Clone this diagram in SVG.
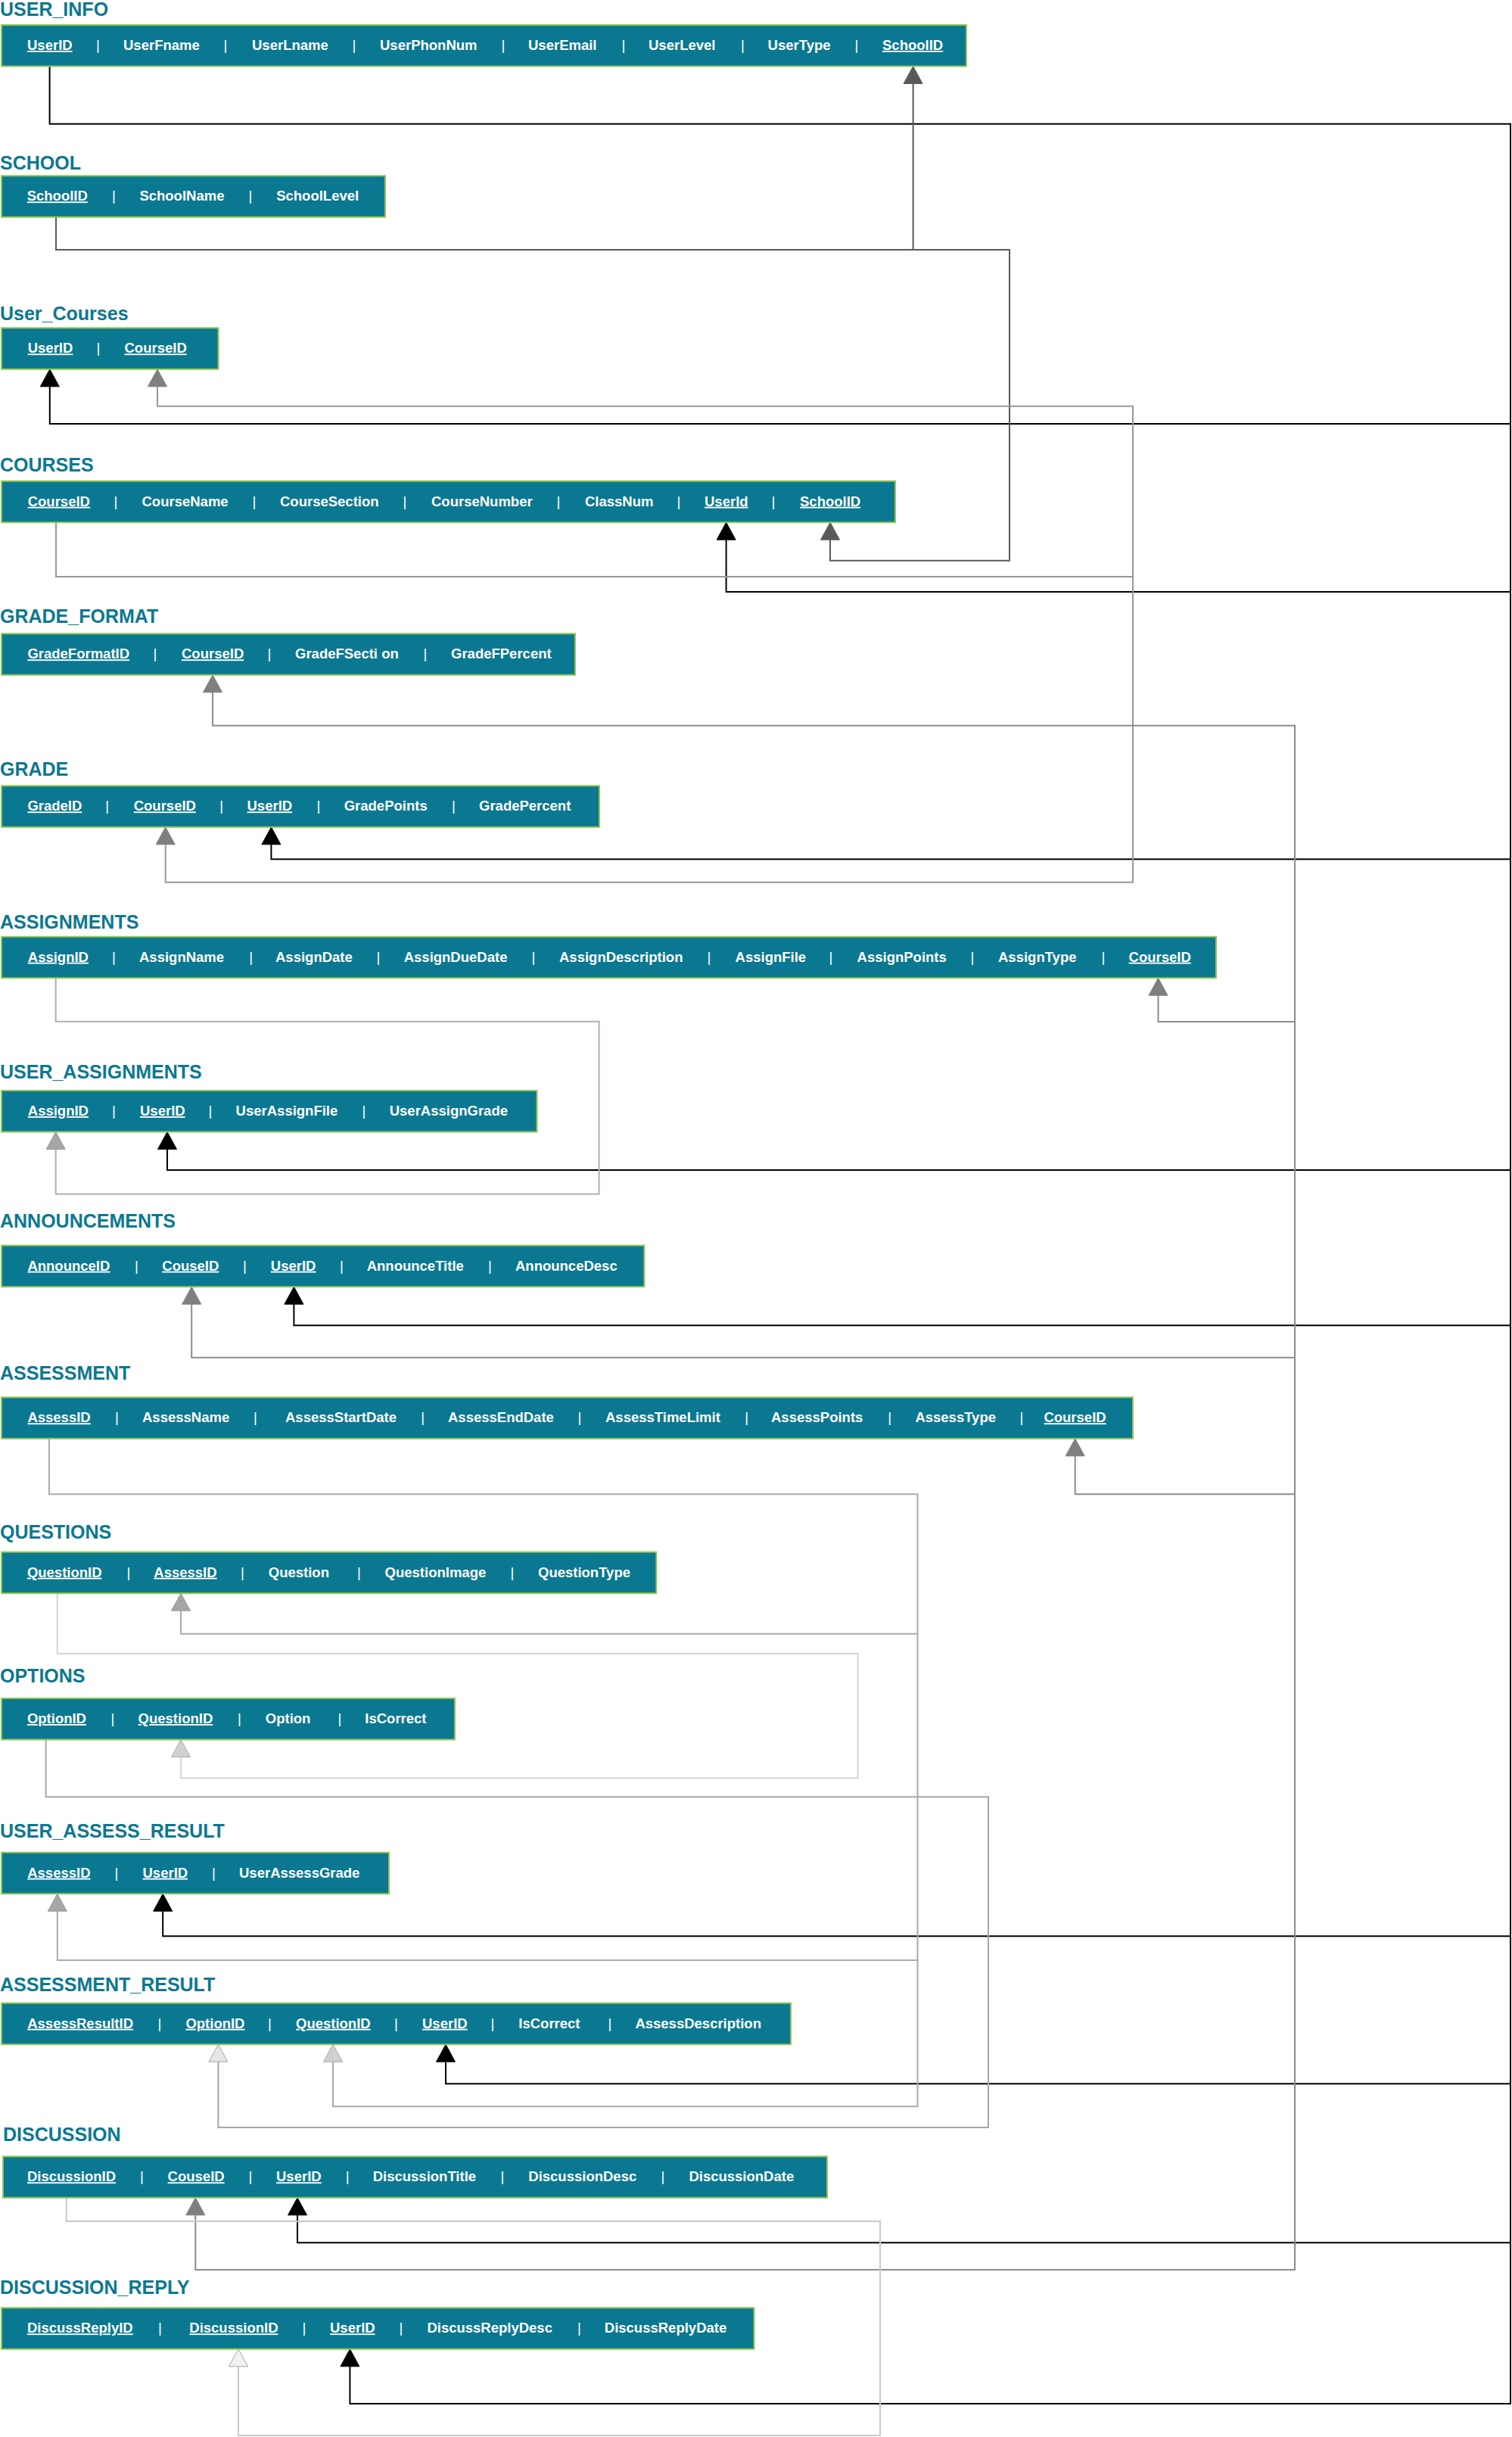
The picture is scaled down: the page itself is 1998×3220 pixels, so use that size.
<svg xmlns="http://www.w3.org/2000/svg" xmlns:xlink="http://www.w3.org/1999/xlink" width="1998" height="3220" viewBox="0 0 1998 3220">
<style>
.t{font-family:"Liberation Sans",Arial,sans-serif;font-weight:bold;font-size:25px;fill:#0b7891}
.box{fill:#0b7891;stroke:#93c553;stroke-width:2}
.f{font-family:"Liberation Sans",Arial,sans-serif;font-weight:bold;font-size:18.5px;fill:#fff}
.k{text-decoration:underline}
.s{font-family:"Liberation Sans",Arial,sans-serif;font-size:18.5px;fill:#fff;text-anchor:middle}
.row{transform:translateY(-1px)}
#connectors path{fill:none;stroke-width:2}
.cb{stroke:#000;stroke-width:2.5px}
.cs{stroke:#595959}
.ca{stroke:#999999}
.cc{stroke:#8c8c8c}
.cg{stroke:#b0b0b0}
.cx{stroke:#aaaaaa}
.cq{stroke:#d4d4d4}
.co{stroke:#a6a6a6}
.cd{stroke:#c8c8c8}
</style>
<defs>
<path id="ah" d="M0,0 L-12.5,23 L12.5,23 Z" stroke-width="1"/>
</defs>
<rect x="0" y="0" width="1998" height="3220" fill="#fff"/>

<g id="connectors">
<path class="cb" d="M65.6,87.5 V163.7 H1996 V3176 H462.4 V3126.8"/>
<path class="cb" d="M65.8,510.8 V560 H1996"/>
<path class="cb" d="M959.6,713.2 V782 H1996"/>
<path class="cb" d="M358.4,1115.8 V1135.3 H1996"/>
<path class="cb" d="M221,1518.5 V1546 H1996"/>
<path class="cb" d="M388.4,1723.2 V1751.3 H1996"/>
<path class="cb" d="M215.2,2525.2 V2558.3 H1996"/>
<path class="cb" d="M589,2724.2 V2753.3 H1996"/>
<path class="cb" d="M393,2926.8 V2963.3 H1996"/>
<path class="cs" d="M74,286.8 V330 H1334 V740.7 H1097 V713.2"/>
<path class="cs" d="M1206.6,110.5 V330"/>
<path class="ca" d="M74,690.2 V762 H1497"/>
<path class="ca" d="M208,510.8 V536.7 H1497 V1165.7 H218.7 V1115.8"/>
<path class="cc" d="M281,914.8 V958.7 H1711 V2999 H258.3 V2926.8"/>
<path class="cc" d="M1530.5,1315.2 V1350 H1711"/>
<path class="cc" d="M253.2,1723.2 V1793.7 H1711"/>
<path class="cc" d="M1420.7,1923.8 V1974.3 H1711"/>
<path class="cg" d="M73.7,1292.2 V1349.7 H791.6 V1577.7 H73.7 V1518.5"/>
<path class="cx" d="M65,1900.8 V1974.3 H1212.5 V2783.3 H440 V2724.2"/>
<path class="cx" d="M239,2128.2 V2158.7 H1212.5"/>
<path class="cx" d="M75.8,2525.2 V2590 H1212.5"/>
<path class="cq" d="M75.7,2105.2 V2185 H1133.6 V2349.3 H239 V2321.5"/>
<path class="co" d="M60.6,2298.5 V2374.3 H1306 V2811 H288.4 V2724.2"/>
<path class="cd" d="M87.7,2903.8 V2935 H1163 V3218 H315 V3126.8"/>
<use xlink:href="#ah" x="1206.6" y="87.5" fill="#595959" stroke="#595959"/>
<use xlink:href="#ah" x="65.8" y="487.8" fill="#000" stroke="#000"/>
<use xlink:href="#ah" x="208" y="487.8" fill="#7f7f7f" stroke="#7f7f7f"/>
<use xlink:href="#ah" x="959.6" y="690.2" fill="#000" stroke="#000"/>
<use xlink:href="#ah" x="1097" y="690.2" fill="#595959" stroke="#595959"/>
<use xlink:href="#ah" x="281" y="891.8" fill="#7f7f7f" stroke="#7f7f7f"/>
<use xlink:href="#ah" x="218.7" y="1092.8" fill="#7f7f7f" stroke="#7f7f7f"/>
<use xlink:href="#ah" x="358.4" y="1092.8" fill="#000" stroke="#000"/>
<use xlink:href="#ah" x="1530.5" y="1292.2" fill="#7f7f7f" stroke="#7f7f7f"/>
<use xlink:href="#ah" x="73.7" y="1495.5" fill="#a6a6a6" stroke="#999"/>
<use xlink:href="#ah" x="221" y="1495.5" fill="#000" stroke="#000"/>
<use xlink:href="#ah" x="253.2" y="1700.2" fill="#7f7f7f" stroke="#7f7f7f"/>
<use xlink:href="#ah" x="388.4" y="1700.2" fill="#000" stroke="#000"/>
<use xlink:href="#ah" x="1420.7" y="1900.8" fill="#7f7f7f" stroke="#7f7f7f"/>
<use xlink:href="#ah" x="239" y="2105.2" fill="#a6a6a6" stroke="#999"/>
<use xlink:href="#ah" x="239" y="2298.5" fill="#d0d0d0" stroke="#aaa"/>
<use xlink:href="#ah" x="75.8" y="2502.2" fill="#a6a6a6" stroke="#999"/>
<use xlink:href="#ah" x="215.2" y="2502.2" fill="#000" stroke="#000"/>
<use xlink:href="#ah" x="288.4" y="2701.2" fill="#e6e6e6" stroke="#a6a6a6"/>
<use xlink:href="#ah" x="440" y="2701.2" fill="#d0d0d0" stroke="#a6a6a6"/>
<use xlink:href="#ah" x="589" y="2701.2" fill="#000" stroke="#000"/>
<use xlink:href="#ah" x="258.3" y="2903.8" fill="#7f7f7f" stroke="#7f7f7f"/>
<use xlink:href="#ah" x="393" y="2903.8" fill="#000" stroke="#000"/>
<use xlink:href="#ah" x="315" y="3103.8" fill="#f2f2f2" stroke="#a6a6a6"/>
<use xlink:href="#ah" x="462.4" y="3103.8" fill="#000" stroke="#000"/>
</g>

<g id="USER_INFO">
<text class="t" x="0" y="20.7">USER_INFO</text>
<rect class="box" x="2" y="33" width="1275" height="54.5"/>
<g class="row">
<text class="f k" x="36" y="67">UserID</text><text class="s" x="129.5" y="67">|</text>
<text class="f" x="163" y="67">UserFname</text><text class="s" x="298" y="67">|</text>
<text class="f" x="333" y="67">UserLname</text><text class="s" x="468" y="67">|</text>
<text class="f" x="502" y="67">UserPhonNum</text><text class="s" x="665" y="67">|</text>
<text class="f" x="698" y="67">UserEmail</text><text class="s" x="824" y="67">|</text>
<text class="f" x="857" y="67">UserLevel</text><text class="s" x="981.5" y="67">|</text>
<text class="f" x="1014.6" y="67">UserType</text><text class="s" x="1132" y="67">|</text>
<text class="f k" x="1166" y="67">SchoolID</text>
</g>
</g>

<g id="SCHOOL">
<text class="t" x="0" y="224">SCHOOL</text>
<rect class="box" x="2" y="232.3" width="507" height="54.5"/>
<g class="row">
<text class="f k" x="35.7" y="266.3">SchoolID</text><text class="s" x="150.4" y="266.3">|</text>
<text class="f" x="184.4" y="266.3">SchoolName</text><text class="s" x="330.8" y="266.3">|</text>
<text class="f" x="365.2" y="266.3">SchoolLevel</text>
</g>
</g>

<g id="User_Courses">
<text class="t" x="0" y="423">User_Courses</text>
<rect class="box" x="2" y="433.3" width="286.5" height="54.5"/>
<g class="row">
<text class="f k" x="36.7" y="467.3">UserID</text><text class="s" x="130" y="467.3">|</text>
<text class="f k" x="164.5" y="467.3">CourseID</text>
</g>
</g>

<g id="COURSES">
<text class="t" x="0" y="623">COURSES</text>
<rect class="box" x="2" y="635.7" width="1181" height="54.5"/>
<g class="row">
<text class="f k" x="36.7" y="669.7">CourseID</text><text class="s" x="153" y="669.7">|</text>
<text class="f" x="187.5" y="669.7">CourseName</text><text class="s" x="336" y="669.7">|</text>
<text class="f" x="370" y="669.7">CourseSection</text><text class="s" x="535" y="669.7">|</text>
<text class="f" x="570" y="669.7">CourseNumber</text><text class="s" x="738" y="669.7">|</text>
<text class="f" x="773" y="669.7">ClassNum</text><text class="s" x="897" y="669.7">|</text>
<text class="f k" x="931" y="669.7">UserId</text><text class="s" x="1022" y="669.7">|</text>
<text class="f k" x="1057" y="669.7">SchoolID</text>
</g>
</g>

<g id="GRADE_FORMAT">
<text class="t" x="0" y="823.3">GRADE_FORMAT</text>
<rect class="box" x="2" y="837.3" width="758" height="54.5"/>
<g class="row">
<text class="f k" x="36.4" y="871.3">GradeFormatID</text><text class="s" x="205" y="871.3">|</text>
<text class="f k" x="240" y="871.3">CourseID</text><text class="s" x="356" y="871.3">|</text>
<text class="f" x="390" y="871.3">GradeFSecti on</text><text class="s" x="562" y="871.3">|</text>
<text class="f" x="596" y="871.3">GradeFPercent</text>
</g>
</g>

<g id="GRADE">
<text class="t" x="0" y="1025">GRADE</text>
<rect class="box" x="2" y="1038.3" width="790" height="54.5"/>
<g class="row">
<text class="f k" x="36.4" y="1072.3">GradeID</text><text class="s" x="141.6" y="1072.3">|</text>
<text class="f k" x="176.7" y="1072.3">CourseID</text><text class="s" x="292.7" y="1072.3">|</text>
<text class="f k" x="326.5" y="1072.3">UserID</text><text class="s" x="421" y="1072.3">|</text>
<text class="f" x="454.7" y="1072.3">GradePoints</text><text class="s" x="599.5" y="1072.3">|</text>
<text class="f" x="633" y="1072.3">GradePercent</text>
</g>
</g>

<g id="ASSIGNMENTS">
<text class="t" x="0" y="1226.7">ASSIGNMENTS</text>
<rect class="box" x="2" y="1237.7" width="1605" height="54.5"/>
<g class="row">
<text class="f k" x="36.8" y="1271.7">AssignID</text><text class="s" x="150.5" y="1271.7">|</text>
<text class="f" x="184" y="1271.7">AssignName</text><text class="s" x="331.6" y="1271.7">|</text>
<text class="f" x="364" y="1271.7">AssignDate</text><text class="s" x="500" y="1271.7">|</text>
<text class="f" x="533.7" y="1271.7">AssignDueDate</text><text class="s" x="705" y="1271.7">|</text>
<text class="f" x="739" y="1271.7">AssignDescription</text><text class="s" x="937" y="1271.7">|</text>
<text class="f" x="971.6" y="1271.7">AssignFile</text><text class="s" x="1098" y="1271.7">|</text>
<text class="f" x="1132.6" y="1271.7">AssignPoints</text><text class="s" x="1285" y="1271.7">|</text>
<text class="f" x="1319" y="1271.7">AssignType</text><text class="s" x="1458" y="1271.7">|</text>
<text class="f k" x="1491.6" y="1271.7">CourseID</text>
</g>
</g>

<g id="USER_ASSIGNMENTS">
<text class="t" x="0" y="1425">USER_ASSIGNMENTS</text>
<rect class="box" x="2" y="1441" width="707.5" height="54.5"/>
<g class="row">
<text class="f k" x="36.8" y="1475">AssignID</text><text class="s" x="150.5" y="1475">|</text>
<text class="f k" x="185" y="1475">UserID</text><text class="s" x="278" y="1475">|</text>
<text class="f" x="311.6" y="1475">UserAssignFile</text><text class="s" x="481" y="1475">|</text>
<text class="f" x="514.7" y="1475">UserAssignGrade</text>
</g>
</g>

<g id="ANNOUNCEMENTS">
<text class="t" x="0" y="1622.3">ANNOUNCEMENTS</text>
<rect class="box" x="2" y="1645.7" width="849.4" height="54.5"/>
<g class="row">
<text class="f k" x="36.4" y="1679.7">AnnounceID</text><text class="s" x="180.5" y="1679.7">|</text>
<text class="f k" x="214.3" y="1679.7">CouseID</text><text class="s" x="323.3" y="1679.7">|</text>
<text class="f k" x="357.8" y="1679.7">UserID</text><text class="s" x="451.5" y="1679.7">|</text>
<text class="f" x="484.7" y="1679.7">AnnounceTitle</text><text class="s" x="647.3" y="1679.7">|</text>
<text class="f" x="681" y="1679.7">AnnounceDesc</text>
</g>
</g>

<g id="ASSESSMENT">
<text class="t" x="0" y="1823.3">ASSESSMENT</text>
<rect class="box" x="2" y="1846.3" width="1495" height="54.5"/>
<g class="row">
<text class="f k" x="36.4" y="1880.3">AssessID</text><text class="s" x="154.3" y="1880.3">|</text>
<text class="f" x="188" y="1880.3">AssessName</text><text class="s" x="337.4" y="1880.3">|</text>
<text class="f" x="377" y="1880.3">AssessStartDate</text><text class="s" x="558.7" y="1880.3">|</text>
<text class="f" x="592" y="1880.3">AssessEndDate</text><text class="s" x="766" y="1880.3">|</text>
<text class="f" x="800" y="1880.3">AssessTimeLimit</text><text class="s" x="986.6" y="1880.3">|</text>
<text class="f" x="1019" y="1880.3">AssessPoints</text><text class="s" x="1175.7" y="1880.3">|</text>
<text class="f" x="1209.4" y="1880.3">AssessType</text><text class="s" x="1350" y="1880.3">|</text>
<text class="f k" x="1379.4" y="1880.3">CourseID</text>
</g>
</g>

<g id="QUESTIONS">
<text class="t" x="0" y="2033.3">QUESTIONS</text>
<rect class="box" x="2" y="2050.7" width="865.3" height="54.5"/>
<g class="row">
<text class="f k" x="35.9" y="2084.7">QuestionID</text><text class="s" x="169.8" y="2084.7">|</text>
<text class="f k" x="203.3" y="2084.7">AssessID</text><text class="s" x="320.5" y="2084.7">|</text>
<text class="f" x="354.8" y="2084.7">Question</text><text class="s" x="474.3" y="2084.7">|</text>
<text class="f" x="508.6" y="2084.7">QuestionImage</text><text class="s" x="676.8" y="2084.7">|</text>
<text class="f" x="711" y="2084.7">QuestionType</text>
</g>
</g>

<g id="OPTIONS">
<text class="t" x="0" y="2223.3">OPTIONS</text>
<rect class="box" x="2" y="2244" width="599" height="54.5"/>
<g class="row">
<text class="f k" x="35.9" y="2278">OptionID</text><text class="s" x="149" y="2278">|</text>
<text class="f k" x="182.6" y="2278">QuestionID</text><text class="s" x="316.5" y="2278">|</text>
<text class="f" x="350.8" y="2278">Option</text><text class="s" x="448.8" y="2278">|</text>
<text class="f" x="482.3" y="2278">IsCorrect</text>
</g>
</g>

<g id="USER_ASSESS_RESULT">
<text class="t" x="0" y="2427.7">USER_ASSESS_RESULT</text>
<rect class="box" x="2" y="2447.7" width="512" height="54.5"/>
<g class="row">
<text class="f k" x="36.2" y="2481.7">AssessID</text><text class="s" x="154" y="2481.7">|</text>
<text class="f k" x="188.5" y="2481.7">UserID</text><text class="s" x="282.4" y="2481.7">|</text>
<text class="f" x="316" y="2481.7">UserAssessGrade</text>
</g>
</g>

<g id="ASSESSMENT_RESULT">
<text class="t" x="0" y="2630.7">ASSESSMENT_RESULT</text>
<rect class="box" x="2" y="2646.7" width="1043" height="54.5"/>
<g class="row">
<text class="f k" x="36.2" y="2680.7">AssessResultID</text><text class="s" x="211" y="2680.7">|</text>
<text class="f k" x="245.4" y="2680.7">OptionID</text><text class="s" x="356.4" y="2680.7">|</text>
<text class="f k" x="391" y="2680.7">QuestionID</text><text class="s" x="523.5" y="2680.7">|</text>
<text class="f k" x="558" y="2680.7">UserID</text><text class="s" x="651" y="2680.7">|</text>
<text class="f" x="685.3" y="2680.7">IsCorrect</text><text class="s" x="806" y="2680.7">|</text>
<text class="f" x="839.4" y="2680.7">AssessDescription</text>
</g>
</g>

<g id="DISCUSSION">
<text class="t" x="4" y="2829.3">DISCUSSION</text>
<rect class="box" x="4" y="2849.3" width="1089" height="54.5"/>
<g class="row">
<text class="f k" x="35.9" y="2883.3">DiscussionID</text><text class="s" x="187.3" y="2883.3">|</text>
<text class="f k" x="221.6" y="2883.3">CouseID</text><text class="s" x="330.8" y="2883.3">|</text>
<text class="f k" x="365" y="2883.3">UserID</text><text class="s" x="459.2" y="2883.3">|</text>
<text class="f" x="492.7" y="2883.3">DiscussionTitle</text><text class="s" x="664" y="2883.3">|</text>
<text class="f" x="698.3" y="2883.3">DiscussionDesc</text><text class="s" x="876" y="2883.3">|</text>
<text class="f" x="910.4" y="2883.3">DiscussionDate</text>
</g>
</g>

<g id="DISCUSSION_REPLY">
<text class="t" x="0" y="3030.7">DISCUSSION_REPLY</text>
<rect class="box" x="2" y="3049.3" width="994.5" height="54.5"/>
<g class="row">
<text class="f k" x="35.9" y="3083.3">DiscussReplyID</text><text class="s" x="211.3" y="3083.3">|</text>
<text class="f k" x="250.3" y="3083.3">DiscussionID</text><text class="s" x="401.8" y="3083.3">|</text>
<text class="f k" x="436" y="3083.3">UserID</text><text class="s" x="530" y="3083.3">|</text>
<text class="f" x="564.4" y="3083.3">DiscussReplyDesc</text><text class="s" x="765.3" y="3083.3">|</text>
<text class="f" x="798.8" y="3083.3">DiscussReplyDate</text>
</g>
</g>
</svg>
